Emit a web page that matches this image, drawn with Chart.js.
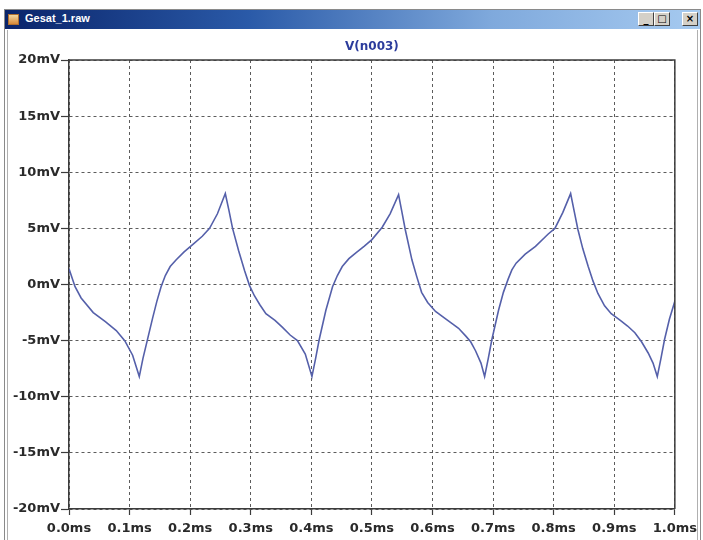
<!DOCTYPE html>
<html>
<head>
<meta charset="utf-8">
<title>V(n003)</title>
<script src="https://cdn.jsdelivr.net/npm/chart.js@4/dist/chart.umd.min.js"></script>
<style>
  html, body { margin: 0; padding: 0; background: #fff; }
  body { width: 703px; height: 540px; position: relative; overflow: hidden; }
  #win { position: absolute; left: 4px; top: 9px; width: 695px; height: 540px;
         border-left: 1px solid #8a8a8a; border-right: 1px solid #8a8a8a; border-top: 1px solid #8a8a8a; }
  #win::before { content: ""; position: absolute; left: 2px; top: 20px; bottom: 0; width: 1px; background: #b0b0b0; }
  #win::after { content: ""; position: absolute; right: 2px; top: 20px; bottom: 0; width: 1px; background: #b0b0b0; }
  #bar { position: absolute; left: 0; top: 0; right: 0; height: 19px;
         background: linear-gradient(to right, #0a246a 0%, #2a5aa8 35%, #7fa9dc 70%, #a6caf0 100%); }
  #icon { position: absolute; left: 3px; top: 4px; width: 11px; height: 11px;
          background: linear-gradient(#f3d8a0, #d88a3a); border: 1px solid #b07030; box-sizing: border-box; }
  #caption { position: absolute; left: 20px; top: 2px; color: #fff; font: bold 11px "Liberation Sans", sans-serif; }
  .btn { position: absolute; top: 2px; width: 16px; height: 14px; background: #d4d0c8;
         border-top: 1px solid #fff; border-left: 1px solid #fff; border-right: 1px solid #404040; border-bottom: 1px solid #404040;
         box-sizing: border-box; font: bold 10px "DejaVu Sans", sans-serif; color: #000; text-align: center; line-height: 12px; }
  #cv { position: absolute; left: 0; top: 0; z-index: 2; }
</style>
</head>
<body>
<div id="win">
  <div id="bar">
    <div class="btn" style="left:633px">_</div>
    <div id="icon"></div>
    <div id="caption">Gesat_1.raw</div>
    <div class="btn" style="left:649px">□</div>
    <div class="btn" style="left:677px">×</div>
  </div>
</div>
<canvas id="cv" width="703" height="540"></canvas>
<script>
// Trace name shown above the plot
const traceName = 'V(n003)';

// Sample times (ms)
const timeMs = [
  0.000, 0.010, 0.020, 0.040, 0.060, 0.078, 0.092, 0.105, 0.116,
  0.122, 0.130, 0.138, 0.145, 0.152, 0.159, 0.167, 0.177, 0.190, 0.205, 0.220, 0.232, 0.245, 0.258,
  0.264, 0.270, 0.280, 0.290, 0.298, 0.306, 0.315, 0.325, 0.340, 0.352, 0.365, 0.377, 0.390, 0.401,
  0.407, 0.413, 0.424, 0.435, 0.443, 0.451, 0.462, 0.473, 0.487, 0.500, 0.517, 0.530, 0.544,
  0.549, 0.555, 0.566, 0.574, 0.582, 0.592, 0.605, 0.620, 0.633, 0.643, 0.655, 0.663, 0.671, 0.680, 0.686,
  0.692, 0.698, 0.709, 0.717, 0.725, 0.731, 0.738, 0.753, 0.770, 0.791, 0.802, 0.815, 0.828,
  0.834, 0.840, 0.848, 0.857, 0.865, 0.873, 0.884, 0.895, 0.910, 0.922, 0.934, 0.945, 0.956, 0.964, 0.971,
  0.977, 0.983, 0.991, 1.000
];

// Node voltage V(n003) (mV)
const voltageMv = [
  1.4, -0.2, -1.2, -2.5, -3.3, -4.1, -5.0, -6.3, -8.2,
  -6.6, -4.8, -3.0, -1.5, -0.2, 0.8, 1.6, 2.2, 2.9, 3.6, 4.3, 5.0, 6.3, 8.1,
  6.6, 5.0, 3.0, 1.2, -0.1, -1.0, -1.8, -2.6, -3.2, -3.8, -4.5, -5.0, -6.2, -8.2,
  -6.6, -4.9, -2.3, -0.2, 0.8, 1.6, 2.3, 2.8, 3.4, 4.0, 5.1, 6.3, 8.0,
  6.6, 4.9, 2.2, 0.7, -0.7, -1.6, -2.4, -3.0, -3.5, -3.9, -4.6, -5.1, -5.9, -7.0, -8.2,
  -6.6, -4.9, -2.3, -0.7, 0.5, 1.3, 1.9, 2.7, 3.4, 4.5, 5.0, 6.4, 8.1,
  6.5, 4.9, 3.2, 1.6, 0.3, -0.8, -1.9, -2.6, -3.2, -3.7, -4.3, -5.1, -6.1, -7.0, -8.2,
  -6.6, -4.9, -3.1, -1.5
];

// Axis tick labels
const xTickLabels = ['0.0ms', '0.1ms', '0.2ms', '0.3ms', '0.4ms', '0.5ms', '0.6ms', '0.7ms', '0.8ms', '0.9ms', '1.0ms'];
const yTickLabels = ['-20mV', '-15mV', '-10mV', '-5mV', '0mV', '5mV', '10mV', '15mV', '20mV'];

const points = timeMs.map((t, i) => ({ x: t, y: voltageMv[i] }));

const tickFont = { family: 'DejaVu Sans', size: 13, weight: 'bold' };
const gridColor = '#5c5c5c';
const frameColor = '#3c3c3c';

// Solid frame on the top and right of the plot, plus the trace name
const plotFrame = {
  id: 'plotFrame',
  afterDatasetsDraw(chart) {
    const { ctx, chartArea: a } = chart;
    ctx.save();
    ctx.strokeStyle = frameColor;
    ctx.lineWidth = 1.5;
    ctx.beginPath();
    ctx.moveTo(a.left, a.top);
    ctx.lineTo(a.right, a.top);
    ctx.lineTo(a.right, a.bottom);
    ctx.stroke();
    ctx.restore();
  },
  afterDraw(chart) {
    const { ctx, chartArea: a } = chart;
    ctx.save();
    ctx.fillStyle = '#2c3c9c';
    ctx.font = 'bold 12px "DejaVu Sans"';
    ctx.textAlign = 'center';
    ctx.textBaseline = 'middle';
    ctx.fillText(traceName, (a.left + a.right) / 2, 47);
    ctx.restore();
  }
};

new Chart(document.getElementById('cv'), {
  type: 'line',
  data: {
    datasets: [{
      label: traceName,
      data: points,
      borderColor: '#5560aa',
      borderWidth: 1.6,
      pointRadius: 0,
      tension: 0,
      fill: false
    }]
  },
  options: {
    responsive: false,
    animation: false,
    devicePixelRatio: 1,
    layout: { padding: { left: 0, top: 60, right: 26, bottom: 0 } },
    plugins: { legend: { display: false }, tooltip: { enabled: false }, title: { display: false } },
    scales: {
      x: {
        type: 'linear', min: 0, max: 1,
        ticks: {
          stepSize: 0.1, autoSkip: false, maxRotation: 0, padding: 6,
          color: '#2a2a2a', font: tickFont,
          callback: (v, i) => xTickLabels[i]
        },
        grid: { color: gridColor, lineWidth: 1, tickLength: 6, tickColor: frameColor, tickWidth: 1.2 },
        border: { display: true, color: frameColor, width: 1.5, dash: [3, 3] },
        afterFit(axis) { axis.height = 31; }
      },
      y: {
        type: 'linear', min: -20, max: 20,
        ticks: {
          stepSize: 5, autoSkip: false, padding: 1,
          color: '#2a2a2a', font: tickFont,
          callback: (v, i) => yTickLabels[i]
        },
        grid: { color: gridColor, lineWidth: 1, tickLength: 8, tickColor: frameColor, tickWidth: 1.2 },
        border: { display: true, color: frameColor, width: 1.5, dash: [3, 3] },
        afterFit(axis) { axis.width = 69; }
      }
    }
  },
  plugins: [plotFrame]
});
</script>
</body>
</html>
